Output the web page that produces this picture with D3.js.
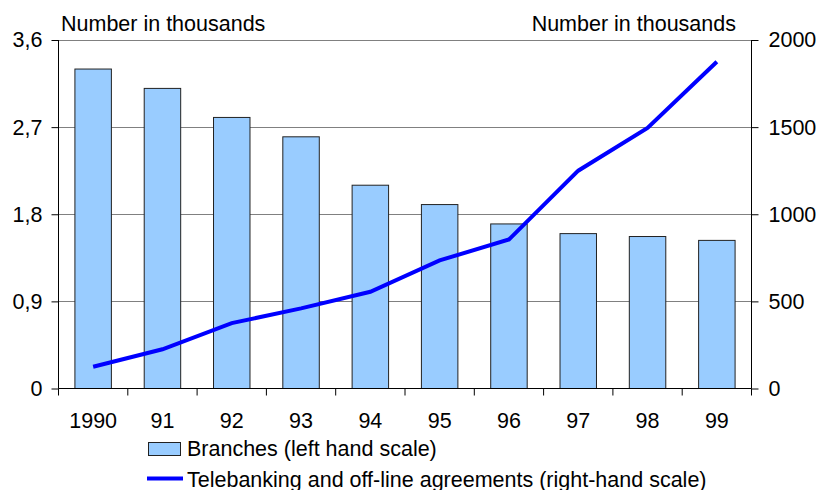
<!DOCTYPE html>
<meta charset="utf-8">
<style>
body { margin: 0; background: #fff; }
text {
  font-family: "Liberation Sans", Arial, sans-serif;
  font-size: 21.5px;
  fill: #000;
}
</style>
<svg width="817" height="490"></svg>
<script src="https://cdn.jsdelivr.net/npm/d3@7"></script>
<script>

// data
var years = ["1990", "91", "92", "93", "94", "95", "96", "97", "98", "99"];
var branches = [3.3, 3.1, 2.8, 2.6, 2.1, 1.9, 1.7, 1.6, 1.57, 1.53];
var telebanking = [125, 225, 375, 460, 555, 735, 855, 1250, 1495, 1875];
var leftTicks = [0, 0.9, 1.8, 2.7, 3.6];
var leftTickLabels = ["0", "0,9", "1,8", "2,7", "3,6"];
var rightTicks = [0, 500, 1000, 1500, 2000];

var bar_colour = "#99ccff";
var line_colour = "#0000ff";
var grid_colour = "#808080";

var svg = d3.select("svg");

var plot_left = 58.5, plot_right = 751.5, plot_top = 40, plot_bottom = 388.5;

var x = d3.scaleBand().domain(years).range([plot_left, plot_right]).padding(0);
var yL = d3.scaleLinear().domain([0, 3.6]).range([plot_bottom, plot_top]);
var yR = d3.scaleLinear().domain([0, 2000]).range([plot_bottom, plot_top]);

var barW = x.bandwidth() / 1.9;

// gridlines
svg.append("g")
  .selectAll("line")
  .data(leftTicks.slice(1))
  .enter().append("line")
  .attr("x1", plot_left).attr("x2", plot_right)
  .attr("y1", function(d) { return Math.round(yL(d)) + 0.5; })
  .attr("y2", function(d) { return Math.round(yL(d)) + 0.5; })
  .style("stroke", grid_colour)
  .style("stroke-width", 1);

// bars
svg.append("g")
  .selectAll("rect")
  .data(branches)
  .enter().append("rect")
  .attr("x", function(d, i) { return x(years[i]) + x.bandwidth() / 2 - barW / 2; })
  .attr("y", function(d) { return yL(d); })
  .attr("width", barW)
  .attr("height", function(d) { return yL(0) - yL(d); })
  .style("fill", bar_colour)
  .style("stroke", "#222")
  .style("stroke-width", 1);

// left axis
var leftAxis = d3.axisLeft(yL)
  .tickValues(leftTicks)
  .tickFormat(function(d, i) { return leftTickLabels[i]; })
  .tickSize(7).tickPadding(9);
var gL = svg.append("g").attr("transform", "translate(" + plot_left + ",0)").call(leftAxis);

// right axis
var rightAxis = d3.axisRight(yR)
  .tickValues(rightTicks)
  .tickFormat(d3.format("d"))
  .tickSize(7).tickPadding(10);
var gR = svg.append("g").attr("transform", "translate(" + plot_right + ",0)").call(rightAxis);

// bottom axis, ticks on category boundaries
var gB = svg.append("g").attr("transform", "translate(0," + plot_bottom + ")");
gB.append("line").attr("x1", plot_left).attr("x2", plot_right).style("stroke", "#000");
gB.selectAll(".bt")
  .data(years.concat(["end"]))
  .enter().append("line")
  .attr("class", "bt")
  .attr("x1", function(d, i) { return plot_left + i * x.bandwidth(); })
  .attr("x2", function(d, i) { return plot_left + i * x.bandwidth(); })
  .attr("y1", 0).attr("y2", 7)
  .style("stroke", "#000");
gB.selectAll("text")
  .data(years)
  .enter().append("text")
  .attr("x", function(d) { return x(d) + x.bandwidth() / 2; })
  .attr("y", 39)
  .attr("text-anchor", "middle")
  .text(function(d) { return d; });

[gL, gR].forEach(function(g) {
  g.select(".domain").remove();
  g.selectAll(".tick line").style("stroke", "#000");
  g.selectAll(".tick text").style("font-size", "21.5px");
  g.attr("font-size", null).attr("font-family", null);
});
gL.append("line").attr("y1", plot_top).attr("y2", plot_bottom).style("stroke", "#000");
gR.append("line").attr("y1", plot_top).attr("y2", plot_bottom).style("stroke", "#000");

// telebanking line
var line = d3.line()
  .x(function(d, i) { return x(years[i]) + x.bandwidth() / 2; })
  .y(function(d) { return yR(d); });

svg.append("path")
  .datum(telebanking)
  .attr("d", line)
  .style("fill", "none")
  .style("stroke", line_colour)
  .style("stroke-width", 4);

// axis titles
svg.append("text").attr("x", 61).attr("y", 31).text("Number in thousands");
svg.append("text").attr("x", 736).attr("y", 31).attr("text-anchor", "end").text("Number in thousands");

// legend
svg.append("rect")
  .attr("x", 148.5).attr("y", 442.5).attr("width", 32).attr("height", 13)
  .style("fill", bar_colour).style("stroke", "#222");
svg.append("text").attr("x", 187).attr("y", 456).text("Branches (left hand scale)");
svg.append("line")
  .attr("x1", 147).attr("x2", 183).attr("y1", 478.5).attr("y2", 478.5)
  .style("stroke", line_colour).style("stroke-width", 4);
svg.append("text").attr("x", 187).attr("y", 486.5).text("Telebanking and off-line agreements (right-hand scale)");

</script>
